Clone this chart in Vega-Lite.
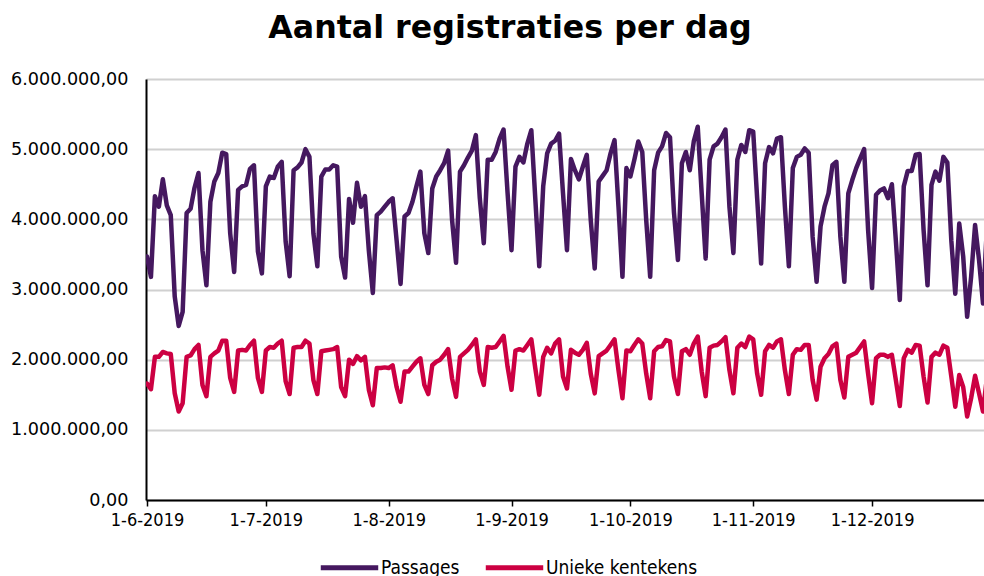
{
  "$schema": "https://vega.github.io/schema/vega-lite/v6.json",
  "autosize": {"type": "none"},
  "padding": {"left": 146, "top": 79, "right": 0, "bottom": 76},
  "width": 838,
  "height": 421,
  "background": "white",
  "title": {
    "text": "Aantal registraties per dag",
    "anchor": "middle",
    "frame": "group",
    "font": "DejaVu Sans",
    "fontSize": 31.7,
    "fontWeight": "bold",
    "color": "#000000",
    "dx": -55,
    "offset": 25
  },
  "config": {
    "view": {"stroke": null},
    "locale": {"number": {"decimal": ",", "thousands": ".", "grouping": [3], "currency": ["€", ""]}}
  },
  "data": {"values": [
    {"d":"2019-06-01","Passages":3470000,"Unieke kentekens":1660000},
    {"d":"2019-06-02","Passages":3180000,"Unieke kentekens":1580000},
    {"d":"2019-06-03","Passages":4330000,"Unieke kentekens":2040000},
    {"d":"2019-06-04","Passages":4180000,"Unieke kentekens":2040000},
    {"d":"2019-06-05","Passages":4570000,"Unieke kentekens":2110000},
    {"d":"2019-06-06","Passages":4200000,"Unieke kentekens":2090000},
    {"d":"2019-06-07","Passages":4060000,"Unieke kentekens":2080000},
    {"d":"2019-06-08","Passages":2900000,"Unieke kentekens":1520000},
    {"d":"2019-06-09","Passages":2480000,"Unieke kentekens":1260000},
    {"d":"2019-06-10","Passages":2680000,"Unieke kentekens":1380000},
    {"d":"2019-06-11","Passages":4090000,"Unieke kentekens":2040000},
    {"d":"2019-06-12","Passages":4150000,"Unieke kentekens":2060000},
    {"d":"2019-06-13","Passages":4450000,"Unieke kentekens":2150000},
    {"d":"2019-06-14","Passages":4660000,"Unieke kentekens":2210000},
    {"d":"2019-06-15","Passages":3560000,"Unieke kentekens":1640000},
    {"d":"2019-06-16","Passages":3060000,"Unieke kentekens":1480000},
    {"d":"2019-06-17","Passages":4250000,"Unieke kentekens":2040000},
    {"d":"2019-06-18","Passages":4540000,"Unieke kentekens":2090000},
    {"d":"2019-06-19","Passages":4660000,"Unieke kentekens":2130000},
    {"d":"2019-06-20","Passages":4950000,"Unieke kentekens":2270000},
    {"d":"2019-06-21","Passages":4930000,"Unieke kentekens":2270000},
    {"d":"2019-06-22","Passages":3800000,"Unieke kentekens":1740000},
    {"d":"2019-06-23","Passages":3250000,"Unieke kentekens":1540000},
    {"d":"2019-06-24","Passages":4420000,"Unieke kentekens":2130000},
    {"d":"2019-06-25","Passages":4470000,"Unieke kentekens":2140000},
    {"d":"2019-06-26","Passages":4490000,"Unieke kentekens":2130000},
    {"d":"2019-06-27","Passages":4720000,"Unieke kentekens":2210000},
    {"d":"2019-06-28","Passages":4770000,"Unieke kentekens":2270000},
    {"d":"2019-06-29","Passages":3540000,"Unieke kentekens":1740000},
    {"d":"2019-06-30","Passages":3230000,"Unieke kentekens":1540000},
    {"d":"2019-07-01","Passages":4470000,"Unieke kentekens":2130000},
    {"d":"2019-07-02","Passages":4610000,"Unieke kentekens":2180000},
    {"d":"2019-07-03","Passages":4590000,"Unieke kentekens":2170000},
    {"d":"2019-07-04","Passages":4750000,"Unieke kentekens":2230000},
    {"d":"2019-07-05","Passages":4820000,"Unieke kentekens":2270000},
    {"d":"2019-07-06","Passages":3680000,"Unieke kentekens":1690000},
    {"d":"2019-07-07","Passages":3190000,"Unieke kentekens":1510000},
    {"d":"2019-07-08","Passages":4700000,"Unieke kentekens":2170000},
    {"d":"2019-07-09","Passages":4740000,"Unieke kentekens":2180000},
    {"d":"2019-07-10","Passages":4810000,"Unieke kentekens":2180000},
    {"d":"2019-07-11","Passages":5000000,"Unieke kentekens":2270000},
    {"d":"2019-07-12","Passages":4890000,"Unieke kentekens":2230000},
    {"d":"2019-07-13","Passages":3800000,"Unieke kentekens":1710000},
    {"d":"2019-07-14","Passages":3330000,"Unieke kentekens":1510000},
    {"d":"2019-07-15","Passages":4610000,"Unieke kentekens":2120000},
    {"d":"2019-07-16","Passages":4710000,"Unieke kentekens":2130000},
    {"d":"2019-07-17","Passages":4710000,"Unieke kentekens":2140000},
    {"d":"2019-07-18","Passages":4770000,"Unieke kentekens":2150000},
    {"d":"2019-07-19","Passages":4750000,"Unieke kentekens":2180000},
    {"d":"2019-07-20","Passages":3470000,"Unieke kentekens":1610000},
    {"d":"2019-07-21","Passages":3170000,"Unieke kentekens":1480000},
    {"d":"2019-07-22","Passages":4290000,"Unieke kentekens":2000000},
    {"d":"2019-07-23","Passages":3950000,"Unieke kentekens":1940000},
    {"d":"2019-07-24","Passages":4520000,"Unieke kentekens":2050000},
    {"d":"2019-07-25","Passages":4180000,"Unieke kentekens":1990000},
    {"d":"2019-07-26","Passages":4330000,"Unieke kentekens":2040000},
    {"d":"2019-07-27","Passages":3550000,"Unieke kentekens":1570000},
    {"d":"2019-07-28","Passages":2950000,"Unieke kentekens":1350000},
    {"d":"2019-07-29","Passages":4060000,"Unieke kentekens":1880000},
    {"d":"2019-07-30","Passages":4110000,"Unieke kentekens":1880000},
    {"d":"2019-07-31","Passages":4180000,"Unieke kentekens":1890000},
    {"d":"2019-08-01","Passages":4250000,"Unieke kentekens":1880000},
    {"d":"2019-08-02","Passages":4300000,"Unieke kentekens":1920000},
    {"d":"2019-08-03","Passages":3700000,"Unieke kentekens":1610000},
    {"d":"2019-08-04","Passages":3080000,"Unieke kentekens":1400000},
    {"d":"2019-08-05","Passages":4040000,"Unieke kentekens":1830000},
    {"d":"2019-08-06","Passages":4090000,"Unieke kentekens":1830000},
    {"d":"2019-08-07","Passages":4250000,"Unieke kentekens":1900000},
    {"d":"2019-08-08","Passages":4470000,"Unieke kentekens":1970000},
    {"d":"2019-08-09","Passages":4680000,"Unieke kentekens":2020000},
    {"d":"2019-08-10","Passages":3800000,"Unieke kentekens":1640000},
    {"d":"2019-08-11","Passages":3520000,"Unieke kentekens":1510000},
    {"d":"2019-08-12","Passages":4440000,"Unieke kentekens":1920000},
    {"d":"2019-08-13","Passages":4610000,"Unieke kentekens":1970000},
    {"d":"2019-08-14","Passages":4700000,"Unieke kentekens":2000000},
    {"d":"2019-08-15","Passages":4800000,"Unieke kentekens":2070000},
    {"d":"2019-08-16","Passages":4980000,"Unieke kentekens":2150000},
    {"d":"2019-08-17","Passages":3990000,"Unieke kentekens":1730000},
    {"d":"2019-08-18","Passages":3380000,"Unieke kentekens":1470000},
    {"d":"2019-08-19","Passages":4680000,"Unieke kentekens":2040000},
    {"d":"2019-08-20","Passages":4770000,"Unieke kentekens":2090000},
    {"d":"2019-08-21","Passages":4880000,"Unieke kentekens":2140000},
    {"d":"2019-08-22","Passages":4980000,"Unieke kentekens":2210000},
    {"d":"2019-08-23","Passages":5200000,"Unieke kentekens":2290000},
    {"d":"2019-08-24","Passages":4300000,"Unieke kentekens":1830000},
    {"d":"2019-08-25","Passages":3660000,"Unieke kentekens":1640000},
    {"d":"2019-08-26","Passages":4850000,"Unieke kentekens":2180000},
    {"d":"2019-08-27","Passages":4850000,"Unieke kentekens":2170000},
    {"d":"2019-08-28","Passages":4960000,"Unieke kentekens":2180000},
    {"d":"2019-08-29","Passages":5150000,"Unieke kentekens":2260000},
    {"d":"2019-08-30","Passages":5280000,"Unieke kentekens":2340000},
    {"d":"2019-08-31","Passages":4380000,"Unieke kentekens":1900000},
    {"d":"2019-09-01","Passages":3560000,"Unieke kentekens":1570000},
    {"d":"2019-09-02","Passages":4750000,"Unieke kentekens":2130000},
    {"d":"2019-09-03","Passages":4890000,"Unieke kentekens":2150000},
    {"d":"2019-09-04","Passages":4810000,"Unieke kentekens":2130000},
    {"d":"2019-09-05","Passages":5080000,"Unieke kentekens":2210000},
    {"d":"2019-09-06","Passages":5270000,"Unieke kentekens":2290000},
    {"d":"2019-09-07","Passages":4300000,"Unieke kentekens":1880000},
    {"d":"2019-09-08","Passages":3330000,"Unieke kentekens":1500000},
    {"d":"2019-09-09","Passages":4470000,"Unieke kentekens":2040000},
    {"d":"2019-09-10","Passages":4940000,"Unieke kentekens":2170000},
    {"d":"2019-09-11","Passages":5080000,"Unieke kentekens":2090000},
    {"d":"2019-09-12","Passages":5120000,"Unieke kentekens":2230000},
    {"d":"2019-09-13","Passages":5220000,"Unieke kentekens":2290000},
    {"d":"2019-09-14","Passages":4370000,"Unieke kentekens":1760000},
    {"d":"2019-09-15","Passages":3560000,"Unieke kentekens":1590000},
    {"d":"2019-09-16","Passages":4860000,"Unieke kentekens":2140000},
    {"d":"2019-09-17","Passages":4700000,"Unieke kentekens":2100000},
    {"d":"2019-09-18","Passages":4570000,"Unieke kentekens":2070000},
    {"d":"2019-09-19","Passages":4750000,"Unieke kentekens":2140000},
    {"d":"2019-09-20","Passages":4920000,"Unieke kentekens":2240000},
    {"d":"2019-09-21","Passages":3990000,"Unieke kentekens":1800000},
    {"d":"2019-09-22","Passages":3300000,"Unieke kentekens":1520000},
    {"d":"2019-09-23","Passages":4540000,"Unieke kentekens":2050000},
    {"d":"2019-09-24","Passages":4620000,"Unieke kentekens":2090000},
    {"d":"2019-09-25","Passages":4700000,"Unieke kentekens":2130000},
    {"d":"2019-09-26","Passages":4940000,"Unieke kentekens":2210000},
    {"d":"2019-09-27","Passages":5130000,"Unieke kentekens":2290000},
    {"d":"2019-09-28","Passages":4180000,"Unieke kentekens":1850000},
    {"d":"2019-09-29","Passages":3180000,"Unieke kentekens":1450000},
    {"d":"2019-09-30","Passages":4730000,"Unieke kentekens":2130000},
    {"d":"2019-10-01","Passages":4610000,"Unieke kentekens":2120000},
    {"d":"2019-10-02","Passages":4850000,"Unieke kentekens":2210000},
    {"d":"2019-10-03","Passages":5110000,"Unieke kentekens":2290000},
    {"d":"2019-10-04","Passages":4960000,"Unieke kentekens":2230000},
    {"d":"2019-10-05","Passages":3990000,"Unieke kentekens":1800000},
    {"d":"2019-10-06","Passages":3180000,"Unieke kentekens":1450000},
    {"d":"2019-10-07","Passages":4700000,"Unieke kentekens":2120000},
    {"d":"2019-10-08","Passages":4950000,"Unieke kentekens":2180000},
    {"d":"2019-10-09","Passages":5040000,"Unieke kentekens":2190000},
    {"d":"2019-10-10","Passages":5230000,"Unieke kentekens":2280000},
    {"d":"2019-10-11","Passages":5170000,"Unieke kentekens":2260000},
    {"d":"2019-10-12","Passages":4100000,"Unieke kentekens":1760000},
    {"d":"2019-10-13","Passages":3420000,"Unieke kentekens":1510000},
    {"d":"2019-10-14","Passages":4800000,"Unieke kentekens":2120000},
    {"d":"2019-10-15","Passages":4960000,"Unieke kentekens":2150000},
    {"d":"2019-10-16","Passages":4700000,"Unieke kentekens":2070000},
    {"d":"2019-10-17","Passages":5110000,"Unieke kentekens":2230000},
    {"d":"2019-10-18","Passages":5320000,"Unieke kentekens":2330000},
    {"d":"2019-10-19","Passages":4370000,"Unieke kentekens":1830000},
    {"d":"2019-10-20","Passages":3440000,"Unieke kentekens":1480000},
    {"d":"2019-10-21","Passages":4850000,"Unieke kentekens":2170000},
    {"d":"2019-10-22","Passages":5040000,"Unieke kentekens":2200000},
    {"d":"2019-10-23","Passages":5080000,"Unieke kentekens":2210000},
    {"d":"2019-10-24","Passages":5170000,"Unieke kentekens":2260000},
    {"d":"2019-10-25","Passages":5280000,"Unieke kentekens":2320000},
    {"d":"2019-10-26","Passages":4180000,"Unieke kentekens":1850000},
    {"d":"2019-10-27","Passages":3520000,"Unieke kentekens":1520000},
    {"d":"2019-10-28","Passages":4850000,"Unieke kentekens":2170000},
    {"d":"2019-10-29","Passages":5060000,"Unieke kentekens":2230000},
    {"d":"2019-10-30","Passages":4960000,"Unieke kentekens":2180000},
    {"d":"2019-10-31","Passages":5270000,"Unieke kentekens":2330000},
    {"d":"2019-11-01","Passages":5250000,"Unieke kentekens":2290000},
    {"d":"2019-11-02","Passages":4300000,"Unieke kentekens":1800000},
    {"d":"2019-11-03","Passages":3370000,"Unieke kentekens":1500000},
    {"d":"2019-11-04","Passages":4800000,"Unieke kentekens":2120000},
    {"d":"2019-11-05","Passages":5030000,"Unieke kentekens":2210000},
    {"d":"2019-11-06","Passages":4940000,"Unieke kentekens":2170000},
    {"d":"2019-11-07","Passages":5150000,"Unieke kentekens":2260000},
    {"d":"2019-11-08","Passages":5170000,"Unieke kentekens":2290000},
    {"d":"2019-11-09","Passages":4180000,"Unieke kentekens":1850000},
    {"d":"2019-11-10","Passages":3330000,"Unieke kentekens":1510000},
    {"d":"2019-11-11","Passages":4730000,"Unieke kentekens":2070000},
    {"d":"2019-11-12","Passages":4890000,"Unieke kentekens":2150000},
    {"d":"2019-11-13","Passages":4920000,"Unieke kentekens":2140000},
    {"d":"2019-11-14","Passages":5010000,"Unieke kentekens":2210000},
    {"d":"2019-11-15","Passages":4950000,"Unieke kentekens":2210000},
    {"d":"2019-11-16","Passages":3750000,"Unieke kentekens":1710000},
    {"d":"2019-11-17","Passages":3110000,"Unieke kentekens":1430000},
    {"d":"2019-11-18","Passages":3900000,"Unieke kentekens":1900000},
    {"d":"2019-11-19","Passages":4180000,"Unieke kentekens":2020000},
    {"d":"2019-11-20","Passages":4370000,"Unieke kentekens":2080000},
    {"d":"2019-11-21","Passages":4770000,"Unieke kentekens":2190000},
    {"d":"2019-11-22","Passages":4820000,"Unieke kentekens":2230000},
    {"d":"2019-11-23","Passages":3750000,"Unieke kentekens":1710000},
    {"d":"2019-11-24","Passages":3110000,"Unieke kentekens":1460000},
    {"d":"2019-11-25","Passages":4370000,"Unieke kentekens":2040000},
    {"d":"2019-11-26","Passages":4560000,"Unieke kentekens":2070000},
    {"d":"2019-11-27","Passages":4730000,"Unieke kentekens":2100000},
    {"d":"2019-11-28","Passages":4870000,"Unieke kentekens":2180000},
    {"d":"2019-11-29","Passages":5000000,"Unieke kentekens":2260000},
    {"d":"2019-11-30","Passages":3850000,"Unieke kentekens":1800000},
    {"d":"2019-12-01","Passages":3020000,"Unieke kentekens":1380000},
    {"d":"2019-12-02","Passages":4350000,"Unieke kentekens":2020000},
    {"d":"2019-12-03","Passages":4410000,"Unieke kentekens":2070000},
    {"d":"2019-12-04","Passages":4440000,"Unieke kentekens":2070000},
    {"d":"2019-12-05","Passages":4300000,"Unieke kentekens":2040000},
    {"d":"2019-12-06","Passages":4500000,"Unieke kentekens":2070000},
    {"d":"2019-12-07","Passages":3700000,"Unieke kentekens":1710000},
    {"d":"2019-12-08","Passages":2850000,"Unieke kentekens":1340000},
    {"d":"2019-12-09","Passages":4470000,"Unieke kentekens":2020000},
    {"d":"2019-12-10","Passages":4690000,"Unieke kentekens":2140000},
    {"d":"2019-12-11","Passages":4690000,"Unieke kentekens":2100000},
    {"d":"2019-12-12","Passages":4920000,"Unieke kentekens":2210000},
    {"d":"2019-12-13","Passages":4930000,"Unieke kentekens":2200000},
    {"d":"2019-12-14","Passages":3850000,"Unieke kentekens":1760000},
    {"d":"2019-12-15","Passages":3060000,"Unieke kentekens":1390000},
    {"d":"2019-12-16","Passages":4490000,"Unieke kentekens":2040000},
    {"d":"2019-12-17","Passages":4680000,"Unieke kentekens":2100000},
    {"d":"2019-12-18","Passages":4550000,"Unieke kentekens":2070000},
    {"d":"2019-12-19","Passages":4890000,"Unieke kentekens":2200000},
    {"d":"2019-12-20","Passages":4810000,"Unieke kentekens":2170000},
    {"d":"2019-12-21","Passages":3700000,"Unieke kentekens":1760000},
    {"d":"2019-12-22","Passages":2940000,"Unieke kentekens":1330000},
    {"d":"2019-12-23","Passages":3940000,"Unieke kentekens":1780000},
    {"d":"2019-12-24","Passages":3470000,"Unieke kentekens":1610000},
    {"d":"2019-12-25","Passages":2610000,"Unieke kentekens":1190000},
    {"d":"2019-12-26","Passages":3180000,"Unieke kentekens":1450000},
    {"d":"2019-12-27","Passages":3920000,"Unieke kentekens":1770000},
    {"d":"2019-12-28","Passages":3420000,"Unieke kentekens":1520000},
    {"d":"2019-12-29","Passages":2800000,"Unieke kentekens":1260000},
    {"d":"2019-12-30","Passages":3900000,"Unieke kentekens":1750000},
    {"d":"2019-12-31","Passages":3400000,"Unieke kentekens":1550000}
  ]},
  "transform": [{"fold": ["Passages", "Unieke kentekens"], "as": ["serie", "waarde"]}],
  "mark": {"type": "line", "strokeWidth": 4.5, "strokeJoin": "round", "strokeCap": "round", "clip": true},
  "encoding": {
    "x": {
      "field": "d",
      "type": "temporal",
      "title": null,
      "scale": {
        "type": "utc",
        "domain": [
          {"year": 2019, "month": 5, "date": 31, "hours": 18, "utc": true},
          {"year": 2019, "month": 12, "date": 29, "hours": 6, "utc": true}
        ]
      },
      "axis": {
        "values": [
          {"year": 2019, "month": 6, "date": 1, "utc": true},
          {"year": 2019, "month": 7, "date": 1, "utc": true},
          {"year": 2019, "month": 8, "date": 1, "utc": true},
          {"year": 2019, "month": 9, "date": 1, "utc": true},
          {"year": 2019, "month": 10, "date": 1, "utc": true},
          {"year": 2019, "month": 11, "date": 1, "utc": true},
          {"year": 2019, "month": 12, "date": 1, "utc": true}
        ],
        "labelExpr": "utcFormat(datum.value, '%-d-%-m-%Y')",
        "grid": false,
        "domainColor": "#000000",
        "domainWidth": 2,
        "tickColor": "#000000",
        "tickWidth": 1.5,
        "tickSize": 6,
        "labelPadding": 5,
        "labelFlush": false,
        "labelOverlap": false,
        "labelFont": "DejaVu Sans Condensed",
        "labelFontSize": 18,
        "labelColor": "#000000"
      }
    },
    "y": {
      "field": "waarde",
      "type": "quantitative",
      "title": null,
      "scale": {"domain": [0, 6000000], "nice": false},
      "axis": {
        "values": [0, 1000000, 2000000, 3000000, 4000000, 5000000, 6000000],
        "format": ",.2f",
        "grid": true,
        "gridColor": "#d0d0d0",
        "gridWidth": 2,
        "domainColor": "#000000",
        "domainWidth": 2,
        "ticks": false,
        "labelPadding": 18,
        "labelFont": "DejaVu Sans",
        "labelFontSize": 17.6,
        "labelColor": "#000000"
      }
    },
    "color": {
      "field": "serie",
      "type": "nominal",
      "title": null,
      "scale": {"domain": ["Passages", "Unieke kentekens"], "range": ["#45185f", "#cc0042"]},
      "legend": {
        "orient": "none",
        "direction": "horizontal",
        "legendX": 172,
        "legendY": 457,
        "symbolType": "stroke",
        "symbolSize": 3300,
        "symbolStrokeWidth": 5,
        "symbolOffset": 0,
        "labelOffset": 0,
        "columnPadding": 15,
        "labelFont": "DejaVu Sans Condensed",
        "labelFontSize": 19,
        "labelColor": "#000000"
      }
    }
  }
}
